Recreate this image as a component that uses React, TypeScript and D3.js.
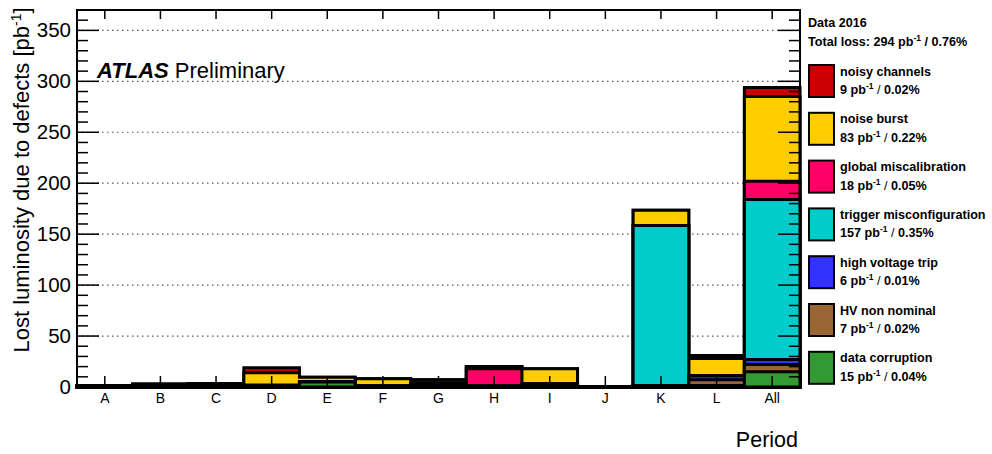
import React from "react";
import * as d3 from "d3";

const periods = ["A", "B", "C", "D", "E", "F", "G", "H", "I", "J", "K", "L", "All"];

// stacking order: bottom -> top
const dataCorruption = [1, 1.5, 1, 1, 5, 1, 1, 1, 3, 0.5, 1.5, 1.5, 15];
const hvNonNominal = [0, 0, 0, 0, 0.5, 0, 2, 0, 0, 0, 0, 5.5, 7];
const highVoltageTrip = [0, 0.5, 1, 0, 0, 0, 1, 0, 0, 0, 0, 4, 5];
const triggerMisconfig = [0, 0, 0, 0, 0, 0, 0, 0, 0, 0, 157, 0, 157];
const globalMiscalib = [0, 0, 0, 1, 0, 0, 0, 17, 0, 0, 0, 0, 18];
const noiseBurst = [0, 1, 1.5, 12, 4, 7, 3, 2, 15, 0, 15, 17, 83];
const noisyChannels = [0, 0, 0, 5, 0, 0, 0, 0, 0, 0, 0, 3, 9];

const seriesNames = [
  "data corruption",
  "HV non nominal",
  "high voltage trip",
  "trigger misconfiguration",
  "global miscalibration",
  "noise burst",
  "noisy channels",
];
const seriesValues = [dataCorruption, hvNonNominal, highVoltageTrip, triggerMisconfig, globalMiscalib, noiseBurst, noisyChannels];
const seriesColors = ["#339933", "#996633", "#3333ff", "#00cccc", "#ff0066", "#ffcc00", "#cc0000"];
const legendAmounts = ["15", "7", "6", "157", "18", "83", "9"];
const legendPercents = ["0.04%", "0.02%", "0.01%", "0.35%", "0.05%", "0.22%", "0.02%"];

const yTicks = [0, 50, 100, 150, 200, 250, 300, 350];

export default function App() {
  const W = 992, H = 454;
  const L = 77, R = 800, T = 10, B = 387;
  const x = d3.scaleBand<string>().domain(periods).range([L, R]).padding(0);
  const y = d3.scaleLinear().domain([0, 370]).range([B, T]);
  const bw = x.bandwidth();

  const cums: number[][] = [];
  seriesValues.forEach((vals, i) => {
    cums.push(vals.map((v, j) => v + (i > 0 ? cums[i - 1][j] : 0)));
  });

  const stepPath = (cum: number[]) => {
    let d = `M${L},${y(0)}`;
    cum.forEach((v, j) => {
      const x0 = x(periods[j])!;
      d += `L${x0},${y(v)}L${x0 + bw},${y(v)}`;
    });
    d += `L${R},${y(0)}Z`;
    return d;
  };

  const minor = d3.range(0, 371, 10);
  const font = "Liberation Sans, Arial, Helvetica, sans-serif";
  const legendTop = 65;
  const legendStep = 47.8;
  const legendOrder = [6, 5, 4, 3, 2, 1, 0];
  const lf = 12.6;

  return (
    <svg width={W} height={H} style={{ display: "block", position: "absolute", left: 0, top: 0 }} fontFamily={font}>
      <rect x={0} y={0} width={W} height={H} fill="white" />
      {yTicks.filter((t) => t > 0).map((t) => (
        <line key={"g" + t} x1={L} x2={R} y1={y(t)} y2={y(t)} stroke="#555" strokeWidth={1.2} strokeDasharray="1.5,3.5" />
      ))}
      {cums.map((_, i) => cums.length - 1 - i).map((i) => (
        <path key={"s" + i} d={stepPath(cums[i])} fill={seriesColors[i]} stroke="black" strokeWidth={3} strokeLinejoin="miter" />
      ))}
      <rect x={L} y={T} width={R - L} height={B - T} fill="none" stroke="black" strokeWidth={2} />
      {minor.map((t) => {
        const major = t % 50 === 0;
        const len = major ? 22 : 11;
        return (
          <g key={"yt" + t}>
            <line x1={L} x2={L + len} y1={y(t)} y2={y(t)} stroke="black" strokeWidth={1.5} />
            <line x1={R} x2={R - len} y1={y(t)} y2={y(t)} stroke="black" strokeWidth={1.5} />
          </g>
        );
      })}
      {yTicks.map((t) => (
        <text key={"yl" + t} x={71} y={y(t) + 7} fontSize={20.5} textAnchor="end">{t}</text>
      ))}
      {periods.map((p) => {
        const cx = x(p)! + bw / 2;
        return (
          <g key={"xt" + p}>
            <line x1={cx} x2={cx} y1={B} y2={B - 11} stroke="black" strokeWidth={1.5} />
            <line x1={cx} x2={cx} y1={T} y2={T + 9} stroke="black" strokeWidth={1.5} />
            <text x={cx} y={403} fontSize={14} textAnchor="middle">{p}</text>
          </g>
        );
      })}
      <text x={798} y={447} fontSize={21.5} textAnchor="end">Period</text>
      <text transform={`translate(29,180) rotate(-90)`} fontSize={22} textAnchor="middle">
        Lost luminosity due to defects [pb<tspan fontSize={14} dy={-8}>-1</tspan><tspan dy={8}>]</tspan>
      </text>
      <text x={97} y={78} fontSize={22}>
        <tspan fontWeight="bold" fontStyle="italic">ATLAS</tspan>
        <tspan> Preliminary</tspan>
      </text>
      <text x={808} y={27} fontSize={lf} fontWeight="bold">Data 2016</text>
      <text x={808} y={46} fontSize={lf} fontWeight="bold">
        Total loss: 294 pb<tspan fontSize={8.5} dy={-5}>-1</tspan><tspan dy={5}> / 0.76%</tspan>
      </text>
      {legendOrder.map((i, k) => {
        const top = legendTop + k * legendStep;
        return (
          <g key={"lg" + i}>
            <rect x={809} y={top} width={25} height={32} fill={seriesColors[i]} stroke="black" strokeWidth={2} />
            <text x={840} y={top + 10.5} fontSize={lf} fontWeight="bold">{seriesNames[i]}</text>
            <text x={840} y={top + 29} fontSize={lf} fontWeight="bold">
              {legendAmounts[i]} pb<tspan fontSize={8.5} dy={-5}>-1</tspan>
              <tspan dy={5} fontWeight="normal"> / </tspan>
              <tspan>{legendPercents[i]}</tspan>
            </text>
          </g>
        );
      })}
    </svg>
  );
}
